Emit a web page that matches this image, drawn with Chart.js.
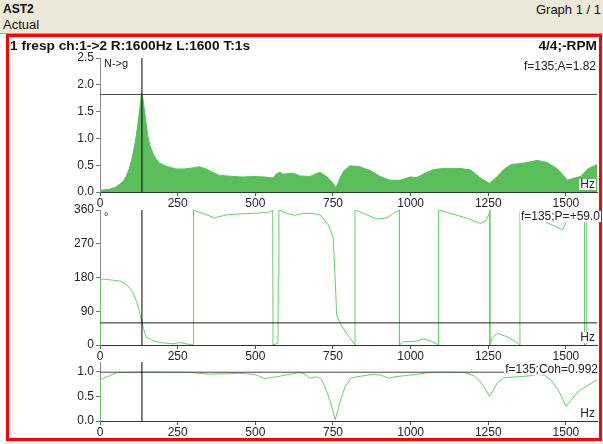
<!DOCTYPE html>
<html>
<head>
<meta charset="utf-8">
<script src="https://cdn.jsdelivr.net/npm/chart.js@4.4.1/dist/chart.umd.min.js"></script>
<style>
  body { margin: 0; width: 603px; height: 444px; position: relative; overflow: hidden; background: #fff;
         font-family: "Liberation Sans", Arial, sans-serif; color: #111; }
  #head { position: absolute; left: 0; top: 0; width: 603px; height: 33px; background: #ECE9D8; border-bottom: 1px solid #9aa6bf; }
  #frame { position: absolute; left: 6px; top: 34px; width: 596px; height: 407px; box-sizing: border-box; border: 3px solid #f00; background: #fff; }
  .t { position: absolute; white-space: nowrap; font-size: 12px; line-height: 12px; }
  .tag { position: absolute; white-space: nowrap; font-size: 12px; line-height: 11px; background: #fff; color: #222; padding: 0 1px; z-index: 5; }
  canvas { position: absolute; left: 0; z-index: 2; }
</style>
</head>
<body>
<div id="head"></div>
<div class="t" style="left:3px;top:3px;font-weight:bold;font-size:12px">AST2</div>
<div class="t" style="left:3px;top:19px;font-size:13px">Actual</div>
<div class="t" style="right:2px;top:4px;font-size:13px">Graph 1 / 1</div>
<div id="frame"></div>
<div class="t" style="left:10px;top:40px;font-weight:bold;font-size:13.7px;z-index:3">1 fresp ch:1-&gt;2 R:1600Hz L:1600 T:1s</div>
<div class="t" style="right:6px;top:40px;font-weight:bold;font-size:13.7px;z-index:3">4/4;-RPM</div>

<div class="tag" style="left:103px;top:58px;font-size:11px;background:none">N-&gt;g</div>
<div class="tag" style="right:6px;top:61px">f=135;A=1.82</div>
<div class="tag" style="right:7px;top:179px">Hz</div>

<div class="tag" style="left:103px;top:211px;font-size:11px;background:none">&deg;</div>
<div class="tag" style="right:2px;top:211px">f=135;P=+59.0</div>
<div class="tag" style="right:7px;top:332px">Hz</div>

<div class="tag" style="right:4px;top:364px">f=135;Coh=0.992</div>
<div class="tag" style="right:7px;top:408px">Hz</div>

<canvas id="c1" width="603" height="164" style="top:46px"></canvas>
<canvas id="c2" width="603" height="164" style="top:198px"></canvas>
<canvas id="c3" width="603" height="86" style="top:350px"></canvas>

<script>
// frequency axis
const freqMax = 1600;
const xTicks = [0, 250, 500, 750, 1000, 1250, 1500];

// cursor readout
const cursorFreq = 135;
const cursorAmp = 1.82;
const cursorPhase = 59.0;
const cursorCoh = 0.992;

// amplitude N->g
const ampTicks = [0, 0.5, 1, 1.5, 2, 2.5];
const ampFreq = [0, 30, 50, 62, 75, 84, 95, 105, 114, 121, 128, 134, 138, 143, 148, 154, 162, 170, 180, 191, 213, 245, 270, 299, 320, 342, 365, 385, 428, 460, 493, 530, 557, 568, 579, 590, 600, 622, 643, 676, 708, 729, 745, 760, 772, 784, 805, 837, 870, 902, 934, 966, 999, 1020, 1053, 1075, 1107, 1161, 1193, 1225, 1254, 1279, 1300, 1322, 1365, 1408, 1440, 1473, 1505, 1527, 1548, 1570, 1600];
const ampVals = [0.03, 0.05, 0.09, 0.14, 0.2, 0.29, 0.45, 0.67, 0.95, 1.22, 1.55, 1.84, 1.75, 1.53, 1.3, 1.04, 0.85, 0.73, 0.62, 0.54, 0.48, 0.43, 0.43, 0.45, 0.47, 0.43, 0.36, 0.31, 0.29, 0.28, 0.29, 0.28, 0.26, 0.34, 0.37, 0.33, 0.34, 0.35, 0.30, 0.29, 0.37, 0.29, 0.2, 0.08, 0.25, 0.39, 0.49, 0.47, 0.40, 0.29, 0.22, 0.22, 0.28, 0.27, 0.37, 0.42, 0.44, 0.44, 0.41, 0.26, 0.16, 0.29, 0.42, 0.51, 0.54, 0.59, 0.55, 0.43, 0.22, 0.26, 0.29, 0.43, 0.51];

// phase, degrees
const phaseTicks = [0, 90, 180, 270, 360];
const phaseFreq = [0, 2, 8, 41, 68, 89, 105, 118, 127, 132, 135, 140, 148, 170, 191, 235, 256, 277, 301, 301, 331, 369, 407, 461, 515, 547, 556, 557, 573, 574, 576, 601, 628, 654, 676, 708, 735, 751, 757, 762, 773, 794, 821, 821, 848, 891, 924, 945, 964, 964, 977, 1010, 1042, 1064, 1090, 1090, 1128, 1182, 1225, 1241, 1252, 1255, 1255, 1263, 1279, 1311, 1338, 1352, 1352, 1390, 1420, 1435, 1462, 1489, 1502, 1520, 1560, 1560, 1567, 1567, 1600];
const phaseVals = [0, 171, 176, 173, 170, 158, 142, 115, 89, 69, 59, 44, 22, 12, 7, 3, 7, 3, 0, 360, 351, 339, 347, 350, 352, 355, 360, 0, 5, 180, 360, 351, 346, 351, 351, 348, 320, 285, 178, 80, 58, 31, 0, 360, 351, 336, 339, 351, 360, 0, 9, 9, 16, 11, 0, 360, 351, 338, 324, 331, 347, 360, 0, 20, 31, 22, 9, 0, 355, 350, 345, 327, 318, 307, 331, 345, 345, 0, 3, 355, 352];

// coherence
const cohTicks = [0, 0.5, 1];
const cohFreq = [0, 1, 8, 30, 57, 89, 150, 200, 289, 320, 353, 380, 407, 450, 493, 510, 527, 545, 568, 611, 643, 660, 676, 698, 710, 719, 730, 741, 750, 757, 765, 773, 789, 810, 848, 880, 905, 929, 950, 977, 1020, 1064, 1110, 1171, 1204, 1220, 1236, 1254, 1265, 1279, 1300, 1343, 1387, 1408, 1430, 1451, 1478, 1500, 1516, 1543, 1570, 1600];
const cohVals = [0, 0.84, 0.86, 0.92, 0.99, 0.99, 1.0, 0.995, 0.99, 0.97, 0.95, 0.96, 0.96, 0.97, 0.95, 0.92, 0.86, 0.88, 0.90, 0.95, 0.99, 0.95, 0.87, 0.90, 0.86, 0.77, 0.6, 0.40, 0.2, 0.03, 0.2, 0.40, 0.70, 0.88, 0.92, 0.95, 0.93, 0.87, 0.90, 0.92, 0.95, 0.99, 0.995, 0.99, 0.92, 0.83, 0.70, 0.50, 0.62, 0.77, 0.88, 0.90, 0.92, 0.95, 0.93, 0.84, 0.60, 0.30, 0.42, 0.62, 0.72, 0.84];

const green = '#5abf5a';
const lightGreen = '#6ccc6c';

Chart.defaults.font.family = '"Liberation Sans", Arial, sans-serif';
Chart.defaults.font.size = 12;
Chart.defaults.color = '#222';

function pts (xs, ys) {
    return xs.map((x, i) => ({ x: x, y: ys[i] }));
}

// cursor cross: vertical at cursorFreq, horizontal at the read value
function cursorSets (yMin, yMax, yVal, hColor) {
    return [
        { data: [{ x: cursorFreq, y: yMin }, { x: cursorFreq, y: yMax }], borderColor: '#000', borderWidth: 1, pointRadius: 0 },
        { data: [{ x: 0, y: yVal }, { x: freqMax, y: yVal }], borderColor: hColor, borderWidth: 1, pointRadius: 0 }
    ];
}

function drawPanel (id, top, plotTop, plotBottom, height, yMin, yMax, yTicks, digits, datasets) {
    return new Chart(document.getElementById(id), {
        type: 'line',
        data: { datasets: datasets },
        options: {
            responsive: false,
            animation: false,
            events: [],
            layout: { padding: { left: 0, right: 6, top: plotTop - top, bottom: 0 } },
            plugins: { legend: { display: false }, tooltip: { enabled: false } },
            elements: { line: { tension: 0 } },
            scales: {
                x: {
                    type: 'linear',
                    min: 0,
                    max: freqMax,
                    afterBuildTicks: (s) => { s.ticks = xTicks.map(v => ({ value: v })); },
                    afterFit: (s) => { s.height = top + height - plotBottom; },
                    ticks: { maxRotation: 0, autoSkip: false, padding: 0, color: '#222', callback: (v) => String(v) },
                    grid: { drawOnChartArea: false, drawTicks: true, tickLength: 4, color: '#555' },
                    border: { display: true, color: '#333', width: 1 }
                },
                y: {
                    min: yMin,
                    max: yMax,
                    afterBuildTicks: (s) => { s.ticks = yTicks.map(v => ({ value: v })); },
                    afterFit: (s) => { s.width = 100; },
                    ticks: { padding: 2, color: '#222', callback: (v) => Number(v).toFixed(digits) },
                    grid: { drawOnChartArea: false, drawTicks: true, tickLength: 4, color: '#777' },
                    border: { display: true, color: '#888', width: 1 }
                }
            }
        }
    });
}

drawPanel('c1', 46, 58, 192, 164, 0, 2.5, ampTicks, 1,
    cursorSets(0, 2.5, cursorAmp, '#444').concat([{
        data: pts(ampFreq, ampVals),
        borderColor: green,
        backgroundColor: green,
        borderWidth: 1,
        pointRadius: 0,
        fill: 'origin'
    }]));

drawPanel('c2', 198, 210, 345, 164, 0, 360, phaseTicks, 0,
    cursorSets(0, 360, cursorPhase, '#222').concat([{
        data: pts(phaseFreq, phaseVals),
        borderColor: lightGreen,
        borderWidth: 1,
        pointRadius: 0,
        fill: false
    }]));

drawPanel('c3', 350, 362, 421, 86, 0, 1.2, cohTicks, 1,
    cursorSets(0, 1.2, cursorCoh, '#444').concat([{
        data: pts(cohFreq, cohVals),
        borderColor: lightGreen,
        borderWidth: 1,
        pointRadius: 0,
        fill: false
    }]));
</script>
</body>
</html>
